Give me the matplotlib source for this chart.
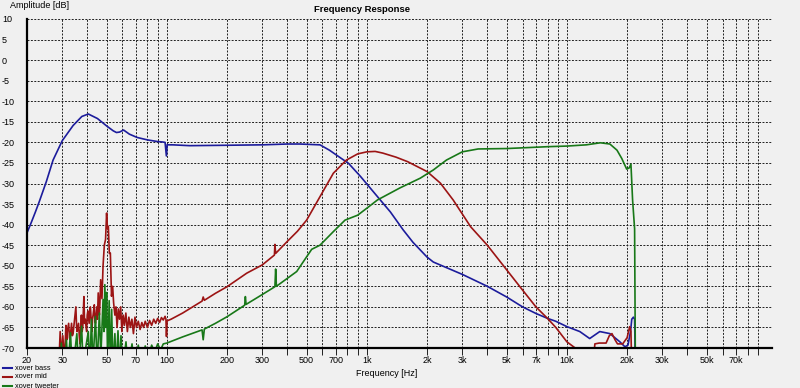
import matplotlib
matplotlib.use("Agg")
import matplotlib.pyplot as plt
from matplotlib.lines import Line2D
from matplotlib.ticker import FixedLocator, NullFormatter
import numpy as np

# --- DATA ---
bass_f = [20, 21, 22, 23, 25, 27, 30, 34, 37.6, 40.5, 45, 50, 54, 56, 58, 60.8, 65, 71, 80, 90,
          95, 98, 99.5, 100.5, 102, 107, 130, 200, 300, 400, 463, 583, 650, 740, 810, 930,
          1130, 1310, 1520, 1700, 2000, 2150, 3000, 4000, 5000, 6000, 7000, 8000, 8800, 10000,
          11600, 13000, 14600, 16400, 18400, 19500, 20200, 20800, 21100, 21500, 21800, 22000]
bass_db = [-42, -39.5, -37, -34.5, -29.5, -24.3, -19.6, -15.9, -13.7, -13.1, -14.2, -16, -17.2,
           -17.6, -17.5, -17, -18, -18.8, -19.4, -19.8, -19.9, -20, -23.3, -20.5, -20.6, -20.6,
           -20.8, -20.7, -20.6, -20.4, -20.4, -20.6, -21.9, -23.8, -25.1, -28.3, -33.2, -36.9,
           -41.3, -44.3, -47.9, -49.1, -52.1, -55, -57.6, -60, -61.6, -62.8, -63.5, -64.8, -66,
           -67.7, -66, -66.5, -68.5, -69.7, -69.3, -66, -63, -62.5, -63, -75]

mid_f = [28.8, 29.3, 29.7, 30.2, 30.5, 30.8, 31.3, 31.6, 31.8, 32.3, 32.6, 32.8, 33.4, 33.7,
         34.0, 34.6, 35.1, 35.4, 35.6, 36.2, 36.5, 36.8, 37.4, 37.7, 38.0, 38.5, 38.8, 39.1,
         39.7, 40.0, 40.3, 40.9, 41.2, 41.5, 42.2, 42.5, 42.8, 43.4, 43.7, 44.0, 44.7, 45.0,
         45.4, 46.0, 46.3, 46.7, 47.4, 48.0, 48.7, 49.4, 50.0, 50.5, 51.0, 51.6, 52.2, 52.9,
         53.6, 54.2, 55.0, 55.7, 56.4, 57.2, 58.0, 58.8, 59.6, 60.5, 61.4, 62.4, 63.5, 64.6,
         65.7, 66.9, 68.1, 69.3, 70.5, 72, 73.5, 75, 76.5, 78, 80, 82, 84, 86, 88, 90, 92, 94,
         96, 98, 99, 99.6, 100.3, 105, 120, 140, 150, 152, 154, 175, 200, 251, 300, 345, 347,
         350, 398, 450, 500, 583, 680, 790, 900, 1000, 1100, 1200, 1400, 1600, 2000, 2330, 2700,
         3300, 4000, 5000, 6000, 7000, 8000, 8800, 10000, 11000, 12000, 13500, 13800, 14500,
         15700, 16300, 16800, 17400, 17900, 19000, 20000, 20600, 20900, 21100]
mid_db = [-75, -66, -72, -67, -70, -73, -64.5, -68, -66, -64, -67.5, -68, -64, -67, -66.5, -63,
          -60, -65, -66, -64, -67, -69, -62, -66, -65, -57.5, -64, -63, -66, -62, -61, -64,
          -60.5, -60, -66, -63, -62, -59.5, -63.5, -64, -60, -63, -56.6, -62, -59, -53.4, -58,
          -50, -45, -43.6, -37.2, -41, -40.4, -47, -46.9, -57.4, -55, -59, -62, -60, -65, -60.5,
          -63, -60, -66, -62, -64.5, -61.5, -66, -62.5, -65, -63, -66.5, -62.5, -65, -63.5,
          -65.5, -63.8, -65, -63.5, -65, -63.3, -64.5, -63, -64, -62.8, -63.8, -62.6, -63.2,
          -62.3, -63, -67.2, -63.4, -63, -61.5, -59.5, -58.6, -57.6, -58.4, -56.7, -55.1, -51.8,
          -49.8, -47.4, -44.8, -47, -44.2, -41.6, -38.9, -33.2, -27.5, -24.3, -22.8, -22.3,
          -22.2, -22.6, -23.6, -24.7, -27.1, -29.9, -34, -40.5, -45, -51, -55.9, -60, -62.8,
          -65, -68.5, -70, -74, -74, -69, -68.8, -68.8, -67, -66.5, -68, -69, -69, -67.5, -64.8,
          -66, -75]

tweeter_f = [29.2, 29.7, 30.2, 31.0, 31.5, 32.0, 33.0, 33.6, 34.5, 35.5, 36.2, 37.5, 38.2,
             39.3, 40.5, 41.2, 42.0, 42.7, 44.0, 44.8, 46.0, 46.8, 48.0, 48.5, 49.0, 49.5, 50.0,
             50.6, 51.5, 52.2, 53.0, 53.8, 55.0, 55.8, 57.0, 58.0, 59.0, 60.2, 62.5, 64, 67, 69,
             72, 75, 78, 81, 84, 87, 90, 93, 96, 100, 120, 150, 152, 154, 175, 200, 245, 247,
             249, 300, 347, 350, 353, 446, 530, 583, 680, 778, 900, 1000, 1130, 1460, 1850,
             2150, 2500, 3000, 3600, 5000, 8000, 10000, 12500, 14700, 16400, 17800, 18800, 19900,
             20500, 20900, 21300, 21800, 22000]
tweeter_db = [-75, -68.8, -75, -74, -68, -75, -66.3, -75, -72, -66.5, -75, -64.7, -75, -70, -66,
              -75, -63, -74, -62.3, -75, -61.5, -72, -58.2, -66, -54.6, -65, -56.5, -74, -58.5,
              -75, -60.6, -75, -66.5, -75, -65.8, -75, -67, -75, -68.5, -75, -69, -75, -69.3,
              -75, -69.5, -72, -69.3, -71, -69, -70.5, -69, -68.8, -67.3, -65.6, -68, -65.4, -64,
              -62.4, -59.6, -57.5, -59.4, -57, -55.1, -50.8, -55, -51.4, -46, -45, -41.7, -38.9,
              -37.7, -36, -34, -31.1, -28.7, -26.7, -24.3, -22.3, -21.6, -21.5, -21.05, -20.9,
              -20.6, -20.1, -20.4, -21.9, -23.9, -26.5, -26.2, -25.3, -34, -41, -75]

tick_vals = [20, 30, 50, 70, 100, 200, 300, 500, 700, 1000, 2000, 3000, 5000, 7000,
             10000, 20000, 30000, 50000, 70000]
tick_labels = ["20", "30", "50", "70", "100", "200", "300", "500", "700", "1k", "2k", "3k",
               "5k", "7k", "10k", "20k", "30k", "50k", "70k"]
grid_vals = [m * 10 ** e for e in range(1, 5) for m in range(1, 10) if m * 10 ** e >= 20]

# --- PLOT ---
plt.rcParams['font.family'] = ['Liberation Sans', 'DejaVu Sans']
plt.rcParams['axes.unicode_minus'] = False
bg = '#f0f0f0'
fig = plt.figure(figsize=(8, 3.88), dpi=100, facecolor=bg)
ax = fig.add_axes([27 / 800, 40 / 388, 745 / 800, 329 / 388], facecolor=bg)

ax.plot(bass_f, bass_db, color='#1c1c9c', lw=1.2, label='xover bass')
ax.plot(mid_f, mid_db, color='#9c1414', lw=1.2, label='xover mid')
ax.plot(tweeter_f, tweeter_db, color='#187818', lw=1.2, label='xover tweeter')

ax.set_xscale('log')
ax.set_xlim(20, 106000)
ax.set_ylim(-70, 10)

ax.xaxis.set_major_locator(FixedLocator(tick_vals))
ax.set_xticklabels(tick_labels)
ax.xaxis.set_minor_locator(FixedLocator([g for g in grid_vals if g not in tick_vals]))
ax.xaxis.set_minor_formatter(NullFormatter())
ax.set_yticks(np.arange(-70, 11, 5))

gstyle = dict(color='#202020', lw=0.7, linestyle=(0, (2, 1.5)))
ax.grid(True, which='both', axis='x', **gstyle)
ax.grid(True, which='major', axis='y', **gstyle)

for s in ['top', 'right']:
    ax.spines[s].set_visible(False)
ax.spines['left'].set_linewidth(1.6)
ax.spines['bottom'].set_linewidth(1.6)

ax.tick_params(axis='x', which='both', length=5, width=0.7, color='#202020',
               labelsize=6.5, pad=1)
ax.tick_params(axis='y', length=0, labelsize=6.5, pad=0)
for lab in ax.get_yticklabels():
    lab.set_horizontalalignment('left')
    lab.set_x(-25 / 745)

fig.text(362 / 800, 1 - 9 / 388, "Frequency Response", ha='center', va='center',
         fontsize=6.8, fontweight='bold')
fig.text(10 / 800, 1 - 5 / 388, "Amplitude [dB]", ha='left', va='center', fontsize=6.5)
fig.text(387 / 800, 1 - 373 / 388, "Frequency [Hz]", ha='center', va='center', fontsize=6.5)

# legend block bottom-left
for i, (name, col) in enumerate([('xover bass', '#1c1c9c'), ('xover mid', '#9c1414'),
                                 ('xover tweeter', '#187818')]):
    yy = 1 - (368 + 9 * i) / 388
    fig.add_artist(Line2D([3 / 800, 12 / 800], [yy, yy], color=col, lw=1.5))
    fig.text(15 / 800, yy, name, ha='left', va='center', fontsize=5.3)

fig.savefig('out.png', dpi=100, facecolor=bg)
